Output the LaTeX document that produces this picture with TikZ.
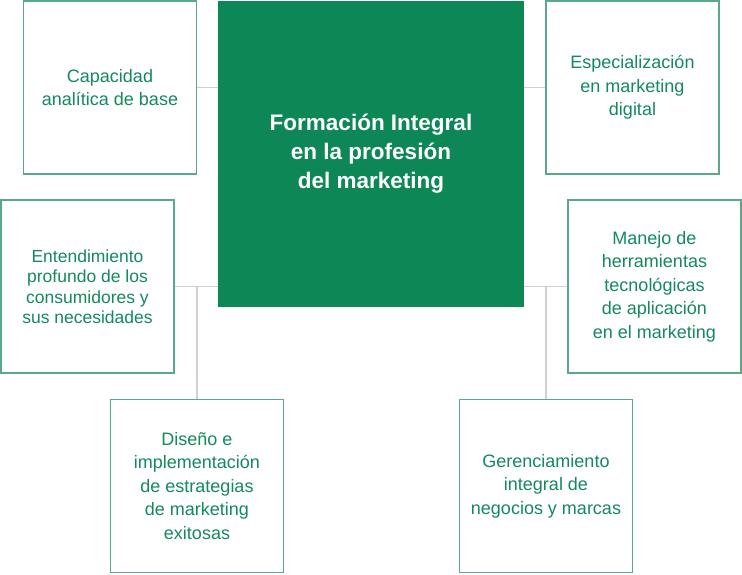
\documentclass[tikz,border=0pt]{standalone}
\usepackage{fontspec}
\setmainfont{Liberation Sans}
\usepackage{tikz}
\definecolor{verde}{HTML}{0E8756}
\definecolor{verdet}{HTML}{138A5C}
\definecolor{borde}{HTML}{5BA888}
\definecolor{gris}{HTML}{D0D0D0}

\tikzset{
  caja/.style={draw=borde, line width=1.5pt, fill=white, minimum width=173pt, minimum height=173pt,
    inner sep=0pt, align=center, text=verdet, font=\fontsize{18}{23.5}\selectfont},
  centro/.style={fill=verde, minimum width=306pt, minimum height=306pt, inner sep=0pt,
    align=center, text=white, font=\fontsize{22.5}{29}\selectfont\bfseries},
  enlace/.style={draw=gris, line width=1.5pt}
}

\begin{document}
\begin{tikzpicture}[x=1pt,y=-1pt]
        \useasboundingbox (0,0) rectangle (742,574);
        % nodo central
        \node[centro] (form) at (371,154) {Formación Integral\\en la profesión\\del marketing};
        % cajas laterales
        \node[caja] (cap) at (110,87.5) {Capacidad\\analítica de base};
        \node[caja] (esp) at (632.5,87.5) {Especialización\\en marketing\\digital};
        \node[caja, font=\fontsize{17.5}{20.5}\selectfont] (ent) at (87.5,286.5) {Entendimiento\\profundo de los\\consumidores y\\sus necesidades};
        \node[caja] (man) at (654.5,286.5) {Manejo de\\herramientas\\tecnológicas\\de aplicación\\en el marketing};
        \node[caja] (dis) at (197,486) {Diseño e\\implementación\\de estrategias\\de marketing\\exitosas};
        \node[caja] (ger) at (546,486) {Gerenciamiento\\integral de\\negocios y marcas};
        % conectores
        \draw[enlace] (cap.east) -- (form.west |- cap.east);
        \draw[enlace] (esp.west) -- (form.east |- esp.west);
        \draw[enlace] (ent.east) -- (form.west |- ent.east);
        \draw[enlace] (man.west) -- (form.east |- man.west);
        \draw[enlace] (dis.north) -- (dis.north |- ent.east);
        \draw[enlace] (ger.north) -- (ger.north |- man.west);
    \end{tikzpicture}
\end{document}
